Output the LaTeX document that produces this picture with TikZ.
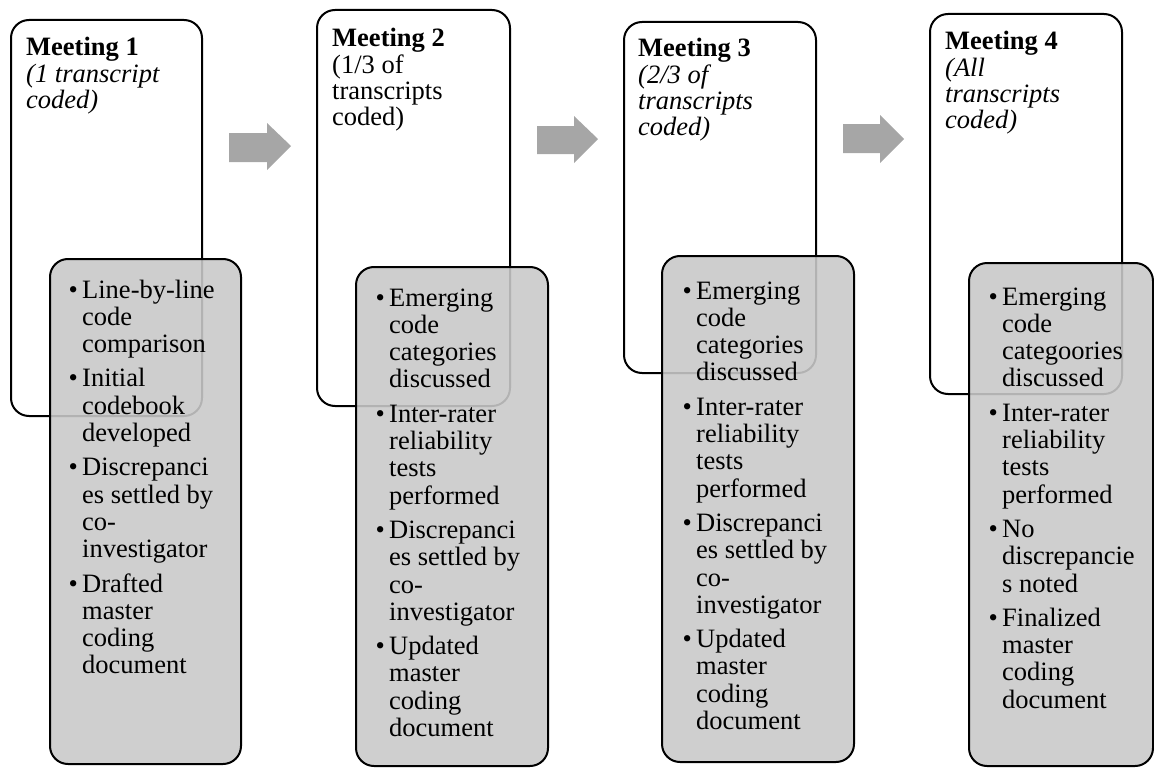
\documentclass[tikz,border=0pt]{standalone}
\usepackage{fontspec}
\setmainfont{Liberation Serif}
\definecolor{boxgray}{gray}{0.79}
\definecolor{arrowgray}{gray}{0.65}
% bullet hanging to the left of each item's first line
\newcommand\bul{\llap{\makebox[18pt][c]{\textbullet}}}
\newcommand\headfont{\fontsize{26.5}{26}\selectfont}
\newcommand\listfont{\fontsize{26.5}{27.3}\selectfont}

\begin{document}
\begin{tikzpicture}[x=1pt,y=-1pt,
  meetbox/.style={draw=black, line width=2pt, rounded corners=18pt, fill=white,
    anchor=north west, inner sep=0pt},
  notebox/.style={draw=black, line width=2pt, rounded corners=18pt, fill=boxgray,
    fill opacity=0.89, draw opacity=1, anchor=north west, inner sep=0pt},
  headtext/.style={anchor=base west, inner sep=0pt, font=\headfont},
  listtext/.style={anchor=base west, inner sep=0pt, font=\listfont},
  blockarrow/.style={fill=arrowgray, draw=none}]
\useasboundingbox (0,0) rectangle (1154,768);

% ---- stage frames ----
\node[meetbox, minimum width=191pt, minimum height=396pt] (m1) at (10,19) {};
\node[meetbox, minimum width=193pt, minimum height=396pt] (m2) at (316,9) {};
\node[meetbox, minimum width=192pt, minimum height=351pt] (m3) at (623,21) {};
\node[meetbox, minimum width=192pt, minimum height=380pt] (m4) at (929,13) {};

\node[headtext] (h1) at (26,56) {\begin{tabular}[t]{@{}l@{}}
  \textbf{Meeting 1}\\ \textit{(1 transcript}\\ \textit{coded)}\end{tabular}};
\node[headtext] (h2) at (332,47) {\begin{tabular}[t]{@{}l@{}}
  \textbf{Meeting 2}\\ (1/3 of\\ transcripts\\ coded)\end{tabular}};
\node[headtext] (h3) at (638,57) {\begin{tabular}[t]{@{}l@{}}
  \textbf{Meeting 3}\\ \textit{(2/3 of}\\ \textit{transcripts}\\ \textit{coded)}\end{tabular}};
\node[headtext] (h4) at (945,50) {\begin{tabular}[t]{@{}l@{}}
  \textbf{Meeting 4}\\ \textit{(All}\\ \textit{transcripts}\\ \textit{coded)}\end{tabular}};

% ---- activity panels ----
\node[notebox, minimum width=191pt, minimum height=505pt] (n1) at (49,258) {};
\node[notebox, minimum width=192pt, minimum height=499pt] (n2) at (355,266) {};
\node[notebox, minimum width=192pt, minimum height=506pt] (n3) at (661,255) {};
\node[notebox, minimum width=184pt, minimum height=503pt] (n4) at (968,262) {};

\node[listtext] (l1) at (82,298) {\begin{tabular}[t]{@{}l@{}}
  \bul Line-by-line\\ code\\ comparison\\[7pt]
  \bul Initial\\ codebook\\ developed\\[7pt]
  \bul Discrepanci\\ es settled by\\ co-\\ investigator\\[7pt]
  \bul Drafted\\ master\\ coding\\ document\end{tabular}};
\node[listtext] (l2) at (389,306) {\begin{tabular}[t]{@{}l@{}}
  \bul Emerging\\ code\\ categories\\ discussed\\[7pt]
  \bul Inter-rater\\ reliability\\ tests\\ performed\\[7pt]
  \bul Discrepanci\\ es settled by\\ co-\\ investigator\\[7pt]
  \bul Updated\\ master\\ coding\\ document\end{tabular}};
\node[listtext] (l3) at (696,299) {\begin{tabular}[t]{@{}l@{}}
  \bul Emerging\\ code\\ categories\\ discussed\\[7pt]
  \bul Inter-rater\\ reliability\\ tests\\ performed\\[7pt]
  \bul Discrepanci\\ es settled by\\ co-\\ investigator\\[7pt]
  \bul Updated\\ master\\ coding\\ document\end{tabular}};
\node[listtext] (l4) at (1002,305) {\begin{tabular}[t]{@{}l@{}}
  \bul Emerging\\ code\\ categoories\\ discussed\\[7pt]
  \bul Inter-rater\\ reliability\\ tests\\ performed\\[7pt]
  \bul No\\ discrepancie\\ s noted\\[7pt]
  \bul Finalized\\ master\\ coding\\ document\end{tabular}};

% ---- block arrows between stages ----
\fill[blockarrow] (229,133) -- (267,133) -- (267,123) -- (291,146)
  -- (267,170) -- (267,162) -- (229,162) -- cycle;
\fill[blockarrow] (537,126) -- (574,126) -- (574,116) -- (598,139)
  -- (574,163) -- (574,154) -- (537,154) -- cycle;
\fill[blockarrow] (843,124) -- (880,124) -- (880,115) -- (904,139)
  -- (880,163) -- (880,153) -- (843,153) -- cycle;
\end{tikzpicture}
\end{document}
